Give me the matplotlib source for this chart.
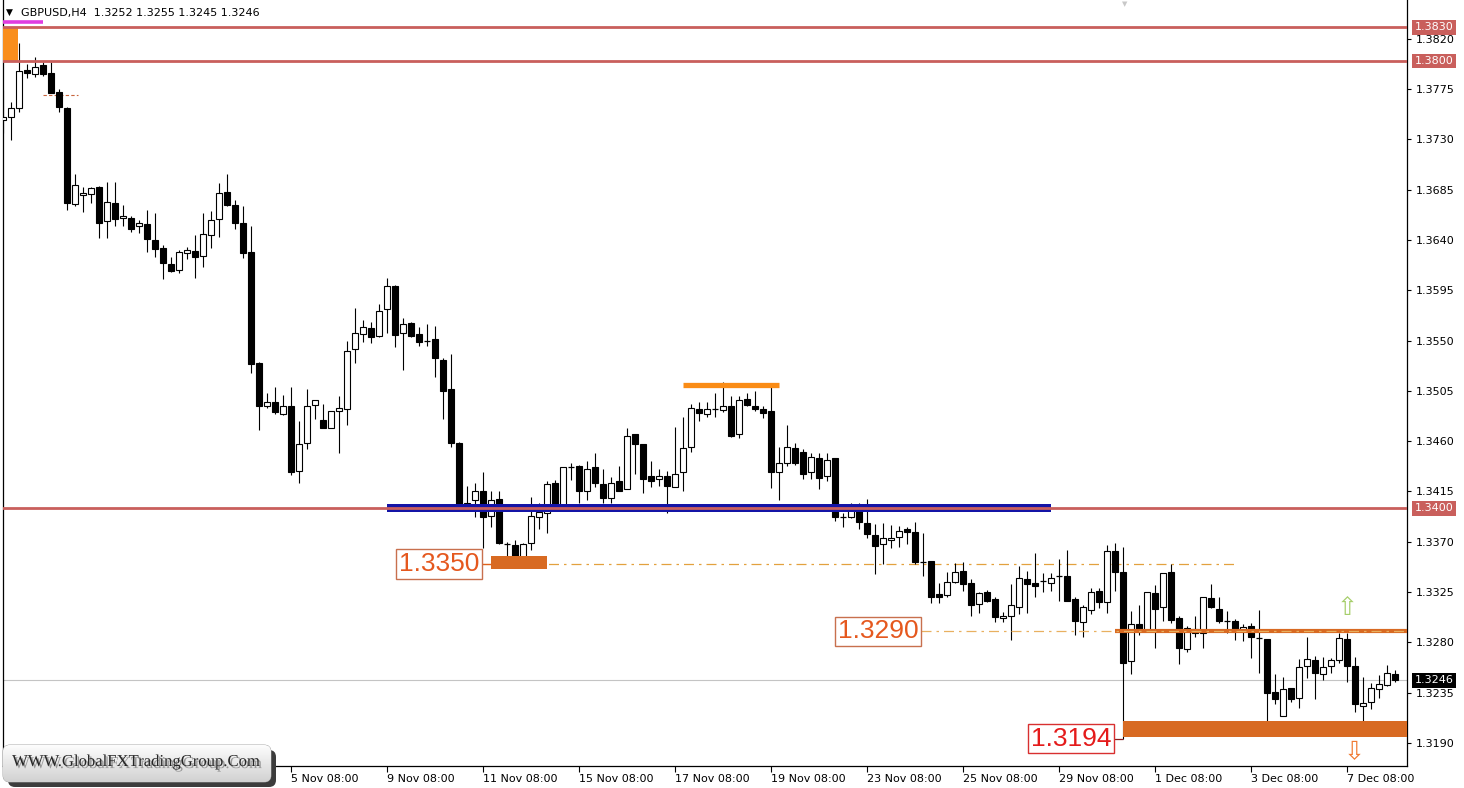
import numpy as np
import pandas as pd
import matplotlib
matplotlib.use('Agg')
import matplotlib.pyplot as plt
from matplotlib.patches import Rectangle, FancyBboxPatch
import matplotlib.patheffects as pe

# GBPUSD H4 bars, first bar 28 Oct 2021 08:00
first_bar = '2021-10-28 08:00'

opens = [1.3747, 1.3750, 1.3758, 1.3792, 1.3788, 1.3796, 1.3789, 1.3772, 1.3758, 1.3672,
         1.3680, 1.3681, 1.3687, 1.3657, 1.3673, 1.3660, 1.3660, 1.3652, 1.3654, 1.3640,
         1.3633, 1.3618, 1.3613, 1.3628, 1.3630, 1.3626, 1.3644, 1.3659, 1.3683, 1.3671,
         1.3655, 1.3629, 1.3530, 1.3491, 1.3495, 1.3484, 1.3491, 1.3433, 1.3458, 1.3492,
         1.3479, 1.3472, 1.3487, 1.3489, 1.3542, 1.3556, 1.3561, 1.3554, 1.3578, 1.3599,
         1.3557, 1.3566, 1.3556, 1.3550, 1.3551, 1.3533, 1.3507, 1.3458, 1.3401, 1.3407,
         1.3415, 1.3393, 1.3408, 1.3368, 1.3367, 1.3356, 1.3369, 1.3392, 1.3396, 1.3423,
         1.3403, 1.3437, 1.3438, 1.3415, 1.3437, 1.3422, 1.3409, 1.3424, 1.3417, 1.3466,
         1.3457, 1.3429, 1.3426, 1.3429, 1.3419, 1.3432, 1.3455, 1.3489, 1.3484, 1.3489,
         1.3488, 1.3491, 1.3466, 1.3498, 1.3491, 1.3489, 1.3487, 1.3432, 1.3440, 1.3454,
         1.3450, 1.3432, 1.3445, 1.3429, 1.3445, 1.3392, 1.3392, 1.3398, 1.3387, 1.3376,
         1.3368, 1.3372, 1.3374, 1.3381, 1.3379, 1.3352, 1.3353, 1.3323, 1.3322, 1.3334,
         1.3344, 1.3333, 1.3314, 1.3325, 1.3319, 1.3302, 1.3304, 1.3312, 1.3337, 1.3333,
         1.3335, 1.3333, 1.3339, 1.3339, 1.3319, 1.3298, 1.3309, 1.3326, 1.3316, 1.3362,
         1.3343, 1.3263, 1.3296, 1.3291, 1.3324, 1.3312, 1.3343, 1.3302, 1.3274, 1.3292,
         1.3288, 1.3320, 1.3310, 1.3299, 1.3299, 1.3290, 1.3295, 1.3284, 1.3283, 1.3236,
         1.3214, 1.3239, 1.3230, 1.3259, 1.3264, 1.3252, 1.3259, 1.3264, 1.3283, 1.3259,
         1.3223, 1.3227, 1.3238, 1.3242, 1.3252]

highs = [1.3774, 1.3763, 1.3816, 1.3797, 1.3804, 1.3799, 1.3799, 1.3775, 1.3759, 1.3699,
         1.3687, 1.3687, 1.3688, 1.3692, 1.3692, 1.3671, 1.3661, 1.3658, 1.3667, 1.3664,
         1.3635, 1.3625, 1.3631, 1.3634, 1.3644, 1.3664, 1.3666, 1.3691, 1.3699, 1.3676,
         1.3670, 1.3652, 1.3531, 1.3503, 1.3508, 1.3501, 1.3508, 1.3478, 1.3507, 1.3497,
         1.3493, 1.3487, 1.3500, 1.3550, 1.3579, 1.3568, 1.3567, 1.3583, 1.3606, 1.3600,
         1.3570, 1.3567, 1.3562, 1.3565, 1.3563, 1.3534, 1.3538, 1.3459, 1.3420, 1.3423,
         1.3432, 1.3415, 1.3415, 1.3370, 1.3372, 1.3369, 1.3410, 1.3405, 1.3424, 1.3425,
         1.3437, 1.3440, 1.3439, 1.3442, 1.3449, 1.3435, 1.3428, 1.3438, 1.3472, 1.3466,
         1.3457, 1.3442, 1.3435, 1.3433, 1.3473, 1.3482, 1.3493, 1.3495, 1.3495, 1.3503,
         1.3513, 1.3500, 1.3500, 1.3503, 1.3505, 1.3491, 1.3508, 1.3455, 1.3474, 1.3458,
         1.3453, 1.3449, 1.3449, 1.3449, 1.3445, 1.3396, 1.3405, 1.3405, 1.3408, 1.3386,
         1.3387, 1.3385, 1.3384, 1.3383, 1.3388, 1.3378, 1.3353, 1.3333, 1.3343, 1.3351,
         1.3352, 1.3337, 1.3325, 1.3327, 1.3321, 1.3307, 1.3332, 1.3348, 1.3344, 1.3360,
         1.3342, 1.3342, 1.3355, 1.3363, 1.3321, 1.3313, 1.3329, 1.3329, 1.3367, 1.3369,
         1.3365, 1.3308, 1.3313, 1.3325, 1.3331, 1.3342, 1.3350, 1.3304, 1.3295, 1.3304,
         1.3321, 1.3332, 1.3321, 1.3308, 1.3301, 1.3296, 1.3297, 1.3309, 1.3283, 1.3252,
         1.3249, 1.3239, 1.3265, 1.3285, 1.3268, 1.3267, 1.3266, 1.3288, 1.3288, 1.3267,
         1.3249, 1.3244, 1.3251, 1.3260, 1.3255]

lows = [1.3736, 1.3729, 1.3754, 1.3785, 1.3786, 1.3787, 1.3771, 1.3754, 1.3667, 1.3670,
        1.3665, 1.3673, 1.3642, 1.3642, 1.3652, 1.3652, 1.3647, 1.3646, 1.3629, 1.3625,
        1.3605, 1.3611, 1.3610, 1.3623, 1.3606, 1.3616, 1.3633, 1.3643, 1.3670, 1.3650,
        1.3624, 1.3521, 1.3470, 1.3490, 1.3484, 1.3483, 1.3430, 1.3423, 1.3453, 1.3480,
        1.3472, 1.3472, 1.3449, 1.3474, 1.3530, 1.3549, 1.3548, 1.3553, 1.3557, 1.3544,
        1.3524, 1.3553, 1.3545, 1.3545, 1.3517, 1.3480, 1.3455, 1.3400, 1.3398, 1.3392,
        1.3364, 1.3383, 1.3368, 1.3357, 1.3355, 1.3351, 1.3363, 1.3381, 1.3378, 1.3401,
        1.3401, 1.3425, 1.3405, 1.3407, 1.3419, 1.3405, 1.3405, 1.3415, 1.3417, 1.3431,
        1.3414, 1.3419, 1.3420, 1.3396, 1.3419, 1.3415, 1.3450, 1.3478, 1.3482, 1.3482,
        1.3486, 1.3464, 1.3463, 1.3491, 1.3487, 1.3481, 1.3418, 1.3407, 1.3438, 1.3439,
        1.3426, 1.3426, 1.3417, 1.3424, 1.3389, 1.3383, 1.3391, 1.3381, 1.3373, 1.3341,
        1.3350, 1.3364, 1.3365, 1.3368, 1.3350, 1.3339, 1.3315, 1.3315, 1.3321, 1.3333,
        1.3326, 1.3304, 1.3306, 1.3316, 1.3298, 1.3298, 1.3282, 1.3305, 1.3306, 1.3321,
        1.3325, 1.3326, 1.3317, 1.3317, 1.3287, 1.3285, 1.3305, 1.3311, 1.3306, 1.3326,
        1.3194, 1.3252, 1.3287, 1.3291, 1.3275, 1.3299, 1.3297, 1.3261, 1.3271, 1.3285,
        1.3275, 1.3311, 1.3297, 1.3288, 1.3282, 1.3281, 1.3266, 1.3253, 1.3208, 1.3225,
        1.3214, 1.3227, 1.3221, 1.3248, 1.3229, 1.3246, 1.3253, 1.3262, 1.3245, 1.3218,
        1.3208, 1.3220, 1.3230, 1.3241, 1.3245]

closes = [1.3750, 1.3758, 1.3791, 1.3789, 1.3795, 1.3788, 1.3771, 1.3759, 1.3673, 1.3689,
          1.3682, 1.3686, 1.3655, 1.3674, 1.3659, 1.3661, 1.3650, 1.3655, 1.3641, 1.3632,
          1.3619, 1.3612, 1.3629, 1.3631, 1.3625, 1.3645, 1.3658, 1.3682, 1.3671, 1.3655,
          1.3628, 1.3529, 1.3491, 1.3495, 1.3486, 1.3491, 1.3432, 1.3457, 1.3491, 1.3497,
          1.3472, 1.3487, 1.3490, 1.3541, 1.3557, 1.3562, 1.3553, 1.3576, 1.3599, 1.3555,
          1.3565, 1.3554, 1.3549, 1.3550, 1.3534, 1.3505, 1.3458, 1.3401, 1.3405, 1.3415,
          1.3392, 1.3407, 1.3369, 1.3368, 1.3356, 1.3368, 1.3393, 1.3397, 1.3422, 1.3401,
          1.3437, 1.3437, 1.3415, 1.3435, 1.3423, 1.3409, 1.3423, 1.3415, 1.3465, 1.3457,
          1.3426, 1.3424, 1.3429, 1.3420, 1.3431, 1.3454, 1.3490, 1.3485, 1.3489, 1.3489,
          1.3491, 1.3465, 1.3497, 1.3492, 1.3489, 1.3485, 1.3432, 1.3440, 1.3455, 1.3440,
          1.3431, 1.3446, 1.3427, 1.3443, 1.3392, 1.3392, 1.3398, 1.3388, 1.3377, 1.3366,
          1.3373, 1.3373, 1.3380, 1.3379, 1.3352, 1.3352, 1.3321, 1.3321, 1.3334, 1.3343,
          1.3332, 1.3313, 1.3324, 1.3317, 1.3303, 1.3304, 1.3313, 1.3338, 1.3332, 1.3330,
          1.3335, 1.3338, 1.3339, 1.3317, 1.3299, 1.3312, 1.3325, 1.3316, 1.3362, 1.3343,
          1.3262, 1.3296, 1.3291, 1.3325, 1.3310, 1.3342, 1.3300, 1.3275, 1.3293, 1.3288,
          1.3321, 1.3312, 1.3299, 1.3299, 1.3290, 1.3294, 1.3285, 1.3284, 1.3235, 1.3229,
          1.3238, 1.3229, 1.3258, 1.3265, 1.3253, 1.3258, 1.3264, 1.3284, 1.3259, 1.3225,
          1.3226, 1.3239, 1.3243, 1.3253, 1.3246]

# levels drawn on the chart
red_levels = [1.3830, 1.3800, 1.3400]
level_1350 = 1.3350
level_1290 = 1.3290
level_1194 = 1.3194
top_zone = 1.3510
support_zone = (1.3195, 1.3210)
box_1350 = (1.3346, 1.3357)
blue_band = (1.3397, 1.3404)
y_ticks = np.round(1.3190 + 0.0045 * np.arange(15), 4)
tick_labels = ['5 Nov 08:00', '9 Nov 08:00', '11 Nov 08:00', '15 Nov 08:00',
               '17 Nov 08:00', '19 Nov 08:00', '23 Nov 08:00', '25 Nov 08:00',
               '29 Nov 08:00', '1 Dec 08:00', '3 Dec 08:00', '7 Dec 08:00']

o = np.array(opens)
c = np.array(closes)
h = np.maximum.reduce([np.array(highs), o, c])
l = np.minimum.reduce([np.array(lows), o, c])
n = len(o)
x = np.arange(n)

# bar times (no weekend bars)
times = pd.date_range(first_bar, periods=n * 2, freq='4h')
times = times[times.dayofweek < 5][:n]
time_txt = [f"{t.day} {t:%b %H:%M}" for t in times]
tick_pos = [time_txt.index(s) for s in tick_labels]

W, H = 1464, 788
fig = plt.figure(figsize=(W / 100, H / 100), dpi=100)
fig.patch.set_facecolor('white')

left_px, right_px, bottom_px = 2.5, 1406.5, 765.5
ax = fig.add_axes([left_px / W, (H - bottom_px) / H, (right_px - left_px) / W, bottom_px / H])
px_per_price = 11180.0
ax.set_ylim(1.3190 - (bottom_px - 743) / px_per_price, 1.3190 + 743 / px_per_price)
ax.set_xlim((left_px - 3) / 8, (right_px - 3) / 8)

# candles
up = c > o
down = c < o
doji = c == o
ax.vlines(x, l, h, color='black', lw=0.8, zorder=3)
bw = 0.66
ax.bar(x[up], c[up] - o[up], bottom=o[up], width=bw, color='white',
       edgecolor='black', linewidth=0.8, zorder=4)
ax.bar(x[down], o[down] - c[down], bottom=c[down], width=bw, color='black',
       edgecolor='black', linewidth=0.8, zorder=4)
ax.hlines(o[doji], x[doji] - bw / 2, x[doji] + bw / 2, color='black', lw=0.9, zorder=4)

# current price line
ax.axhline(c[-1], color='#C4C4C4', lw=0.8, zorder=1)

# blue band + red levels
ax.add_patch(Rectangle((48, blue_band[0]), 83, blue_band[1] - blue_band[0],
                       facecolor='#1414A6', edgecolor='none', zorder=6))
for lv in red_levels:
    ax.axhline(lv, color='#C95F5C', lw=2.0, zorder=7)

# orange block top-left and magenta mark
ax.add_patch(Rectangle((-0.1, red_levels[1]), 2.0, red_levels[0] - red_levels[1],
                       facecolor='#F98E1D', edgecolor='none', zorder=5))
ax.hlines(1.38349, -0.1, 5.0, color='#E03CE0', lw=2.6, zorder=8)
ax.hlines(1.3770, 5.0, 9.4, color='#C8643C', lw=0.8, linestyles=(0, (3, 2)), zorder=2)

# resistance line at top
ax.hlines(top_zone, 85, 97, color='#FA8C16', lw=3.8, zorder=5)

label_font = dict(family='Liberation Sans', fontsize=19, ha='center', va='center', zorder=9)

# 1.3350 zone
dashdot = (0, (8, 4, 2, 4))
ax.hlines(level_1350, 59.8, 154.4, color='#E3A13E', lw=0.9, linestyles=dashdot, zorder=2)
ax.add_patch(Rectangle((61, box_1350[0]), 7, box_1350[1] - box_1350[0],
                       facecolor='#D86A22', edgecolor='none', zorder=5))
ax.hlines(level_1350, 59.8, 61, color='#E0601E', lw=0.9, zorder=5)
ax.text(54.5, level_1350, f'{level_1350:.4f}', color='#E5581E',
        bbox=dict(boxstyle='square,pad=0.1', fc='white', ec='#C8704E', lw=1.0), **label_font)

# 1.3290 zone
ax.hlines(level_1290, 139, 175.5, color='#D86A22', lw=3.0, zorder=5)
ax.hlines(level_1290, 114.8, 175.5, color='#E8B060', lw=0.9, linestyles=dashdot, zorder=6)
ax.text(109.4, level_1290, f'{level_1290:.4f}', color='#E5581E',
        bbox=dict(boxstyle='square,pad=0.1', fc='white', ec='#C8704E', lw=1.0), **label_font)

# 1.3194 support
ax.add_patch(Rectangle((140, support_zone[0]), 36, support_zone[1] - support_zone[0],
                       facecolor='#D86A22', edgecolor='none', zorder=5))
ax.hlines(level_1194, 138.9, 140, color='#8B1A1A', lw=0.9, zorder=5)
ax.text(133.5, level_1194, f'{level_1194:.4f}', color='#E41B1B',
        bbox=dict(boxstyle='square,pad=0.1', fc='white', ec='#D83030', lw=1.0), **label_font)

# arrows
ax.text(168, 1.3311, '\u21e7', fontsize=18, color='#A6CE6A', ha='center', va='center', zorder=9)
ax.text(168.9, 1.3182, '\u21e9', fontsize=18, color='#F07A32', ha='center', va='center',
        zorder=9, clip_on=False)

# axes styling
ax.spines['top'].set_visible(False)
for side in ['left', 'right', 'bottom']:
    ax.spines[side].set_color('black')
    ax.spines[side].set_linewidth(0.9)
ax.yaxis.tick_right()
ax.set_yticks(y_ticks)
ax.set_yticklabels([f'{v:.4f}' for v in y_ticks], fontsize=8)
ax.tick_params(axis='y', length=3, pad=4, width=0.8)
ax.set_xticks(tick_pos)
ax.set_xticklabels(tick_labels, fontsize=8, ha='left')
ax.tick_params(axis='x', length=4, pad=2, width=0.8)
ax.set_facecolor('white')

# price tags on the right scale
def price_tag(val, fc):
    ax.text(1 + 8 / 1404, val, f'{val:.4f}', transform=ax.get_yaxis_transform(),
            ha='left', va='center', fontsize=8, color='white', zorder=12, clip_on=False,
            bbox=dict(boxstyle='square,pad=0.22', fc=fc, ec='none'))

for lv in red_levels:
    price_tag(lv, '#C95F5C')
price_tag(c[-1], 'black')

# overlay in pixel units: title and watermark
ov = fig.add_axes([0, 0, 1, 1], zorder=20)
ov.set_xlim(0, W)
ov.set_ylim(H, 0)
ov.axis('off')

ov.text(6, 12.5, '\u25bc', fontsize=6.5, color='black', va='center')
ov.text(21, 12.5, f'GBPUSD,H4  {o[-1]:.4f} {h[-1]:.4f} {l[-1]:.4f} {c[-1]:.4f}',
        fontsize=8, color='black', va='center')
ov.text(1125, 4, '\u25bc', fontsize=5, color='#C8C8C8', ha='center', va='center')

shadow = FancyBboxPatch((8, 750), 268, 37, boxstyle='round,pad=0,rounding_size=7',
                        fc='#3C3C3C', ec='none')
ov.add_patch(shadow)
badge = FancyBboxPatch((3, 745), 268, 37, boxstyle='round,pad=0,rounding_size=7',
                       fc='#EEEEEE', ec='#9A9A9A', lw=0.6)
ov.add_patch(badge)
grad = np.linspace(0.99, 0.82, 64).reshape(-1, 1)
im = ov.imshow(grad, extent=(3, 271, 782, 745), cmap='gray', vmin=0, vmax=1,
               aspect='auto', zorder=2)
im.set_clip_path(badge)
ov.set_xlim(0, W)
ov.set_ylim(H, 0)
ov.text(136, 762, 'WWW.GlobalFXTradingGroup.Com', family='Liberation Serif', fontsize=12,
        color='#262626', ha='center', va='center', zorder=3,
        path_effects=[pe.withSimplePatchShadow(offset=(1.5, -1.5), shadow_rgbFace='#666666',
                                               alpha=0.6)])

fig.savefig('out.png', dpi=100, facecolor='white')
